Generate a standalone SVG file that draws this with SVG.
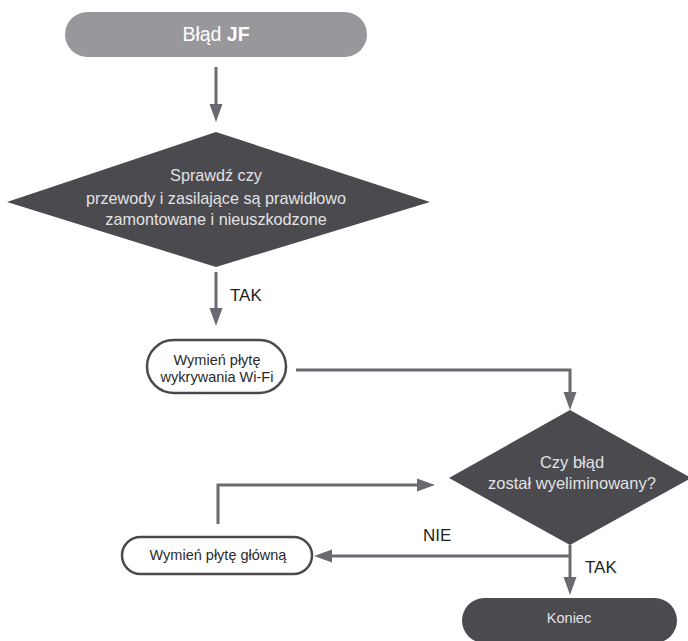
<svg xmlns="http://www.w3.org/2000/svg" width="688" height="641" viewBox="0 0 688 641">
<style>
.t{font-family:"Liberation Sans",Arial,sans-serif;}
.lt{fill:#e2e2e4;}
.dk{fill:#2a2a2c;}
.conn{fill:none;stroke:#6b6a70;stroke-width:3;}
.box{fill:#ffffff;stroke:#4a4a4e;stroke-width:2.5;}
.dia{fill:#4b4a4f;}
.lbl{font-size:17px;fill:#231f20;}
</style>
<defs>
<marker id="ah" markerUnits="userSpaceOnUse" markerWidth="18" markerHeight="14" refX="0" refY="6.5" orient="auto" overflow="visible">
<path d="M0,0 L18,6.5 L0,13 z" fill="#6b6a70"/>
</marker>
</defs>
<rect width="688" height="641" fill="#ffffff"/>
<g id="connectors">
<path class="conn" d="M216,67 V104" marker-end="url(#ah)"/>
<path class="conn" d="M216,272 V308" marker-end="url(#ah)"/>
<path class="conn" d="M296,370 H570 V392" marker-end="url(#ah)"/>
<path class="conn" d="M570,545 V577" marker-end="url(#ah)"/>
<path class="conn" d="M570,556 H332" marker-end="url(#ah)"/>
<path class="conn" d="M218,524 V485 H417" marker-end="url(#ah)"/>
<text class="t lbl" x="230" y="301">TAK</text>
<text class="t lbl" x="423" y="541">NIE</text>
<text class="t lbl" x="585" y="573">TAK</text>
</g>
<g id="start">
<rect x="65" y="12" width="302" height="45" rx="22.5" fill="#98979c"/>
<text class="t" x="216" y="41" font-size="19.5" fill="#ffffff" text-anchor="middle">Błąd <tspan font-weight="bold">JF</tspan></text>
</g>
<g id="check">
<polygon class="dia" points="216,132 430,202 216,267 7,202"/>
<text class="t lt" font-size="16.2" text-anchor="middle"><tspan x="216" y="181">Sprawdź czy</tspan><tspan x="216" y="204">przewody i zasilające są prawidłowo</tspan><tspan x="216" y="225">zamontowane i nieuszkodzone</tspan></text>
</g>
<g id="replace-wifi">
<rect class="box" x="147" y="340" width="139" height="53" rx="26.5"/>
<text class="t dk" font-size="14.5" text-anchor="middle"><tspan x="217" y="365">Wymień płytę</tspan><tspan x="217" y="382">wykrywania Wi-Fi</tspan></text>
</g>
<g id="decision">
<polygon class="dia" points="570,410 691,478 570,545 449,478"/>
<text class="t lt" font-size="16.5" text-anchor="middle"><tspan x="572" y="468">Czy błąd</tspan><tspan x="572" y="489">został wyeliminowany?</tspan></text>
</g>
<g id="replace-main">
<rect class="box" x="122" y="537" width="190" height="37" rx="18.5"/>
<text class="t dk" x="218" y="560" font-size="14.5" text-anchor="middle">Wymień płytę główną</text>
</g>
<g id="end">
<rect x="462" y="598" width="215" height="45" rx="22.5" fill="#4b4a4f"/>
<text class="t lt" x="569" y="623" font-size="14.5" text-anchor="middle">Koniec</text>
</g>
</svg>
